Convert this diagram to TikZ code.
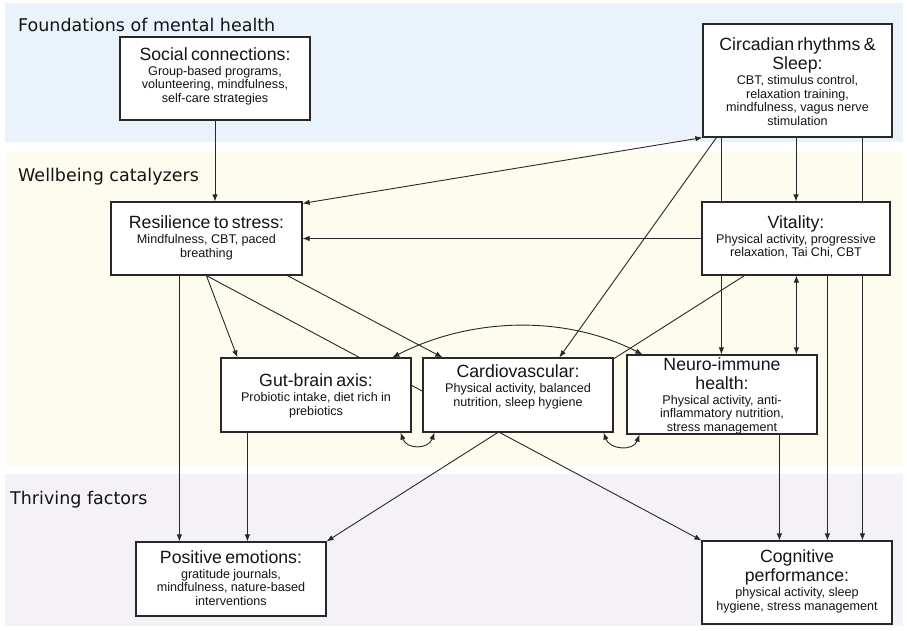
\documentclass[tikz,border=0pt]{standalone}
\usepackage{fontspec}
\setmainfont{Liberation Sans}
\newfontfamily\labfont{DejaVu Sans}
\usetikzlibrary{arrows.meta,calc}
\pgfdeclarelayer{bands}
\pgfdeclarelayer{edges}
\pgfsetlayers{bands,edges,main}
\definecolor{bandA}{RGB}{234,242,251}
\definecolor{bandB}{RGB}{254,251,239}
\definecolor{bandC}{RGB}{245,242,247}
\definecolor{linec}{RGB}{40,40,40}
\definecolor{txtc}{RGB}{20,20,20}
\newcommand{\ttlf}{\fontsize{17.7}{19}\selectfont}
\newcommand{\dtlf}{\fontsize{12.6}{13.5}\selectfont}
\newcommand{\boxtext}[2]{{\ttlf #1\par}\vspace{1.5pt}{\dtlf #2\par}}
\begin{document}
\begin{tikzpicture}[x=1pt,y=-1pt,
  box/.style={draw=linec, line width=1.2pt, fill=white, rectangle, inner sep=0pt},
  btxt/.style={text=txtc, align=center, text width=186pt, inner sep=0pt},
  lab/.style={font=\labfont\fontsize{17.5}{20}\selectfont, text=txtc, inner sep=0pt, anchor=base west},
  arr/.style={draw=linec, line width=0.9pt, -{Latex[length=7pt,width=5.5pt]}},
  arrb/.style={draw=linec, line width=0.9pt, {Latex[length=7pt,width=5.5pt]}-{Latex[length=7pt,width=5.5pt]}}]
\useasboundingbox (0,0) rectangle (907,630);
\begin{pgfonlayer}{bands}
\fill[white] (0,0) rectangle (907,630);
\fill[bandA] (5,3) rectangle (903,142);
\fill[bandB] (5,152) rectangle (903,466);
\fill[bandC] (5,474) rectangle (903,626);
\end{pgfonlayer}

\node[lab] (lab1) at (18,31.5) {Foundations of mental health};
\node[lab] (lab2) at (18,181) {Wellbeing catalyzers};
\node[lab] (lab3) at (10,504) {Thriving factors};

% boxes
\node[box, minimum width=190pt, minimum height=83pt] (social) at (215,78.5) {};
\node[box, minimum width=189pt, minimum height=113pt] (circ) at (797.5,80.5) {};
\node[box, minimum width=191pt, minimum height=73pt] (resil) at (206.5,238.5) {};
\node[box, minimum width=188pt, minimum height=73pt] (vital) at (796,238.5) {};
\node[box, minimum width=190pt, minimum height=74pt] (gut) at (316,395) {};
\node[box, minimum width=190pt, minimum height=74pt] (cardio) at (518,395) {};
\node[box, minimum width=190pt, minimum height=79pt] (neuro) at (722,394.5) {};
\node[box, minimum width=190pt, minimum height=74pt] (posi) at (231,579) {};
\node[box, minimum width=190pt, minimum height=83pt] (cogn) at (797,582.5) {};

% texts
\node[btxt] (socialt) at (215,76.3) {\boxtext{Social connections:}{Group-based programs,\\ volunteering, mindfulness,\\ self-care strategies}};
\node[btxt] (circt) at (797.5,81.6) {\boxtext{Circadian rhythms \&\\ Sleep:}{CBT, stimulus control,\\ relaxation training,\\ mindfulness, vagus nerve\\ stimulation}};
\node[btxt] (resilt) at (206.5,237.9) {\boxtext{Resilience to stress:}{Mindfulness, CBT, paced\\ breathing}};
\node[btxt] (vitalt) at (796,237) {\boxtext{Vitality:}{Physical activity, progressive\\ relaxation, Tai Chi, CBT}};
\node[btxt] (gutt) at (316,395.9) {\boxtext{Gut-brain axis:}{Probiotic intake, diet rich in\\ prebiotics}};
\node[btxt] (cardiot) at (518,386.9) {\boxtext{Cardiovascular:}{Physical activity, balanced\\ nutrition, sleep hygiene}};
\node[btxt] (neurot) at (722,395.4) {\boxtext{Neuro-immune\\ health:}{Physical activity, anti-\\ inflammatory nutrition,\\ stress management}};
\node[btxt] (posit) at (231,578) {\boxtext{Positive emotions:}{gratitude journals,\\ mindfulness, nature-based\\ interventions}};
\node[btxt] (cognt) at (797,581.4) {\boxtext{Cognitive\\ performance:}{physical activity, sleep\\ hygiene, stress management}};

% anchor points
\coordinate (sA) at (social.south);
\coordinate (cN) at ([xshift=19pt]circ.south west);
\coordinate (cD) at ([xshift=14pt]circ.south west);
\coordinate (cC) at ([xshift=160pt]circ.south west);
\coordinate (vN) at ([xshift=95pt]vital.south west);
\coordinate (vC) at ([xshift=126pt]vital.south west);
\coordinate (vP) at ([xshift=43pt]vital.south west);
\coordinate (nC) at ([xshift=153pt]neuro.south west);
\coordinate (rP) at ([xshift=69pt]resil.south west);
\coordinate (rG) at ([xshift=96pt]resil.south west);
\coordinate (rC) at ([xshift=177pt]resil.south west);
\coordinate (gP) at ([xshift=27pt]gut.south west);
\coordinate (gT) at ([xshift=17pt]gut.north west);
\coordinate (cdT) at ([xshift=20pt]cardio.north west);
\coordinate (cdS) at ([xshift=137pt]cardio.north west);
\coordinate (gA) at ([xshift=172pt]gut.north west);
\coordinate (nA) at ([xshift=16pt]neuro.north west);
\coordinate (gB) at ([xshift=-11pt]gut.south east);
\coordinate (cdB1) at ([xshift=12pt]cardio.south west);
\coordinate (cdB2) at ([xshift=-10pt]cardio.south east);
\coordinate (nB) at ([xshift=13pt]neuro.south west);
\coordinate (rT) at ([yshift=-2pt]resil.north east);

\begin{pgfonlayer}{edges}
\draw[arr] (sA) -- (sA |- resil.north);
\draw[arrb] (rT) -- (circ.south west);
\draw[arr] (vital.west) -- (vital.west -| resil.east);
\draw[arr] (circ.south -| vital.north) -- (vital.north);
\draw[arr] (cD) -- (cdS);
\draw[arr] (cN) -- (cN |- neuro.north);
\draw[arr] (cC) -- (cC |- cogn.north);
\draw[arrb] (vN) -- (vN |- neuro.north);
\draw[arr] (vC) -- (vC |- cogn.north);
\draw[arr] (vP) -- (posi.north east);
\draw[arr] (nC) -- (nC |- cogn.north);
\draw[arr] (rP) -- (rP |- posi.north);
\draw[arr] (rG) -- (gT);
\draw[arr] (rG) -- (cogn.north west);
\draw[arr] (rC) -- (cdT);
\draw[arr] (gP) -- (gP |- posi.north);
\draw[arrb] (gA) .. controls +(78,-40) and +(-78,-40) .. (nA);
\draw[arrb] (gB) .. controls +(6,17) and +(-6,17) .. (cdB1);
\draw[arrb] (cdB2) .. controls +(6,17) and +(-6,17) .. (nB);
\end{pgfonlayer}
\end{tikzpicture}
\end{document}
